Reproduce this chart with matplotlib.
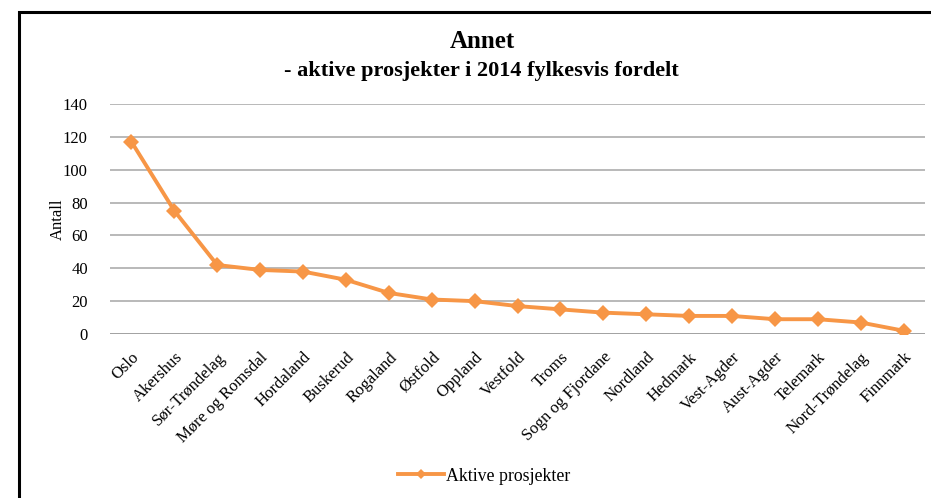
import matplotlib
matplotlib.use("Agg")
import matplotlib.pyplot as plt
from matplotlib.patches import Rectangle

counties = ["Oslo", "Akershus", "Sør-Trøndelag", "Møre og Romsdal", "Hordaland",
            "Buskerud", "Rogaland", "Østfold", "Oppland", "Vestfold", "Troms",
            "Sogn og Fjordane", "Nordland", "Hedmark", "Vest-Agder", "Aust-Agder",
            "Telemark", "Nord-Trøndelag", "Finnmark"]
active_projects = [117, 75, 42, 39, 38, 33, 25, 21, 20, 17, 15, 13, 12, 11, 11, 9, 9, 7, 2]
y_ticks = [0, 20, 40, 60, 80, 100, 120, 140]

plt.rcParams["font.family"] = ["Liberation Serif", "DejaVu Serif"]

W, H = 931, 498
fig = plt.figure(figsize=(W / 100, H / 100), dpi=100)

# outer frame
fig.patches.append(Rectangle((19 / W, -0.1), 1.2, 1 - 12 / H + 0.1,
                             transform=fig.transFigure, fill=False,
                             edgecolor="black", linewidth=2.2))

ax = fig.add_axes([110 / W, 1 - 334 / H, (925 - 110) / W, (334 - 104) / H])
x = range(len(counties))
line, = ax.plot(x, active_projects, color="#F79646", linewidth=2.8,
                marker="D", markersize=8, markeredgewidth=0,
                label="Aktive prosjekter", zorder=3)

ax.set_ylim(0, 140)
ax.set_xlim(-0.5, len(counties) - 0.5)
ax.set_yticks(y_ticks)
ax.set_yticklabels([str(v) for v in y_ticks], fontsize=12)
ax.set_xticks(list(x))
ax.set_xticklabels(counties, rotation=45, ha="right", va="top",
                   rotation_mode="anchor", fontsize=12)
ax.tick_params(axis="both", length=0)
ax.tick_params(axis="x", pad=11)
ax.tick_params(axis="y", pad=16)

for v in y_ticks:
    ax.axhline(v, color="#878787" if v == 0 else "#A6A6A6",
               linewidth=1.1, zorder=1)
for s in ax.spines.values():
    s.set_visible(False)

ax.set_ylabel("Antall", fontsize=12)
ax.yaxis.set_label_coords(-0.054, 0.5)

fig.text(482 / W, 1 - 41 / H, "Annet", ha="center", va="center",
         fontsize=18, fontweight="bold")
fig.text(481 / W, 1 - 71 / H, "- aktive prosjekter i 2014 fylkesvis fordelt",
         ha="center", va="center", fontsize=16, fontweight="bold")

fig.legend(handles=[line], loc="center", bbox_to_anchor=(484 / W, 1 - 476 / H),
           frameon=False, fontsize=12.8, handlelength=2.6, handletextpad=0.1,
           markerscale=0.6)

fig.savefig("out.png", dpi=100, facecolor="white")
